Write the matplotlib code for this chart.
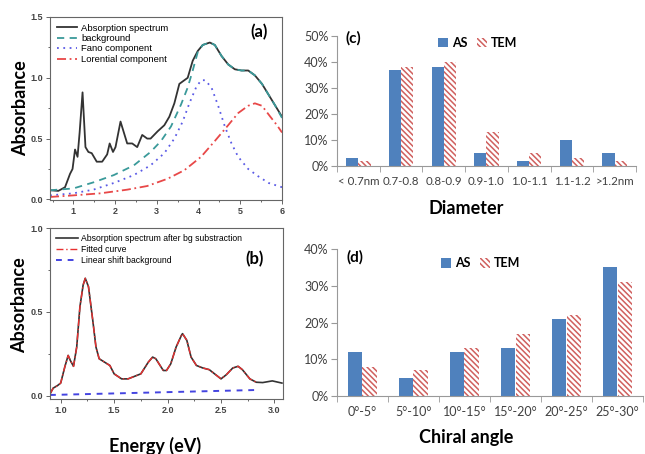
import matplotlib
matplotlib.use('Agg')
import matplotlib.pyplot as plt

plt.rcParams['hatch.linewidth'] = 1.1

# ---- panel (a): absorption spectrum and its decomposition
a_E = [0.44, 0.64, 0.80, 0.92, 0.98, 1.04, 1.10, 1.15, 1.22, 1.29, 1.36, 1.44, 1.56, 1.69,
       1.81, 1.87, 1.95, 2.01, 2.13, 2.21, 2.29, 2.41, 2.53, 2.65, 2.77, 2.85, 3.02, 3.18,
       3.30, 3.42, 3.54, 3.62, 3.74, 3.86, 3.98, 4.10, 4.27, 4.39, 4.55, 4.71, 4.87, 5.03,
       5.19, 5.35, 5.52, 5.68, 5.84, 6.00]
a_abs = [0.075, 0.07, 0.10, 0.21, 0.25, 0.41, 0.35, 0.55, 0.88, 0.43, 0.39, 0.38, 0.31, 0.31,
         0.37, 0.46, 0.39, 0.43, 0.64, 0.55, 0.46, 0.46, 0.43, 0.53, 0.50, 0.50, 0.56, 0.61,
         0.68, 0.79, 0.95, 0.97, 1.00, 1.14, 1.22, 1.27, 1.29, 1.27, 1.18, 1.11, 1.07, 1.06,
         1.06, 1.02, 0.95, 0.86, 0.77, 0.68]
bg_E = [0.44, 1.00, 1.48, 1.97, 2.45, 2.85, 3.10, 3.34, 3.58, 3.74, 3.86, 3.98, 4.10, 4.27,
        4.39, 4.55, 4.71, 4.87, 5.03, 5.19, 5.35, 5.52, 5.68, 5.84, 6.00]
bg_abs = [0.075, 0.09, 0.14, 0.20, 0.28, 0.39, 0.48, 0.60, 0.78, 0.92, 1.06, 1.21, 1.27, 1.29,
          1.27, 1.18, 1.11, 1.07, 1.06, 1.06, 1.02, 0.95, 0.86, 0.77, 0.67]
fano_E = [0.44, 1.00, 1.48, 1.97, 2.45, 2.85, 3.18, 3.42, 3.62, 3.78, 3.94, 4.06, 4.16, 4.31,
          4.47, 4.63, 4.79, 4.95, 5.19, 5.43, 5.68, 6.00]
fano_abs = [0.033, 0.05, 0.08, 0.135, 0.20, 0.28, 0.38, 0.50, 0.64, 0.79, 0.92, 0.98, 0.98,
            0.92, 0.77, 0.60, 0.46, 0.35, 0.25, 0.19, 0.135, 0.10]
lor_E = [0.44, 1.00, 1.65, 2.29, 2.77, 3.26, 3.66, 4.06, 4.39, 4.71, 4.95, 5.19, 5.35, 5.52,
         5.72, 5.88, 6.00]
lor_abs = [0.02, 0.033, 0.05, 0.08, 0.11, 0.17, 0.24, 0.35, 0.48, 0.61, 0.71, 0.77, 0.79,
           0.77, 0.68, 0.61, 0.55]

# ---- panel (b): spectrum after background subtraction
b_E = [0.90, 0.93, 0.97, 1.00, 1.04, 1.07, 1.09, 1.12, 1.15, 1.18, 1.21, 1.23, 1.26, 1.30,
       1.33, 1.36, 1.41, 1.46, 1.50, 1.57, 1.63, 1.71, 1.75, 1.82, 1.86, 1.89, 1.96, 1.99,
       2.03, 2.08, 2.13, 2.14, 2.18, 2.22, 2.27, 2.33, 2.39, 2.45, 2.50, 2.55, 2.61, 2.66,
       2.70, 2.77, 2.83, 2.89, 2.98, 3.07]
b_abs = [0.01, 0.045, 0.06, 0.075, 0.175, 0.24, 0.21, 0.175, 0.29, 0.53, 0.66, 0.70, 0.65,
         0.45, 0.29, 0.22, 0.20, 0.18, 0.13, 0.10, 0.10, 0.12, 0.13, 0.20, 0.23, 0.22, 0.15,
         0.15, 0.19, 0.29, 0.36, 0.37, 0.33, 0.23, 0.18, 0.165, 0.155, 0.125, 0.10, 0.125,
         0.165, 0.175, 0.155, 0.10, 0.08, 0.078, 0.088, 0.075]
fit_end = 45  # fitted curve stops near 2.85 eV
lin_E = [0.90, 2.85]
lin_abs = [0.004, 0.034]

# ---- panel (c): diameter distribution
diam_cats = ['< 0.7nm', '0.7-0.8', '0.8-0.9', '0.9-1.0', '1.0-1.1', '1.1-1.2', '>1.2nm']
diam_as = [3, 37, 38, 5, 2, 10, 5]
diam_tem = [2, 38, 40, 13, 5, 3, 2]

# ---- panel (d): chiral angle distribution
chir_cats = ['0°-5°', '5°-10°', '10°-15°', '15°-20°', '20°-25°', '25°-30°']
chir_as = [12, 5, 12, 13, 21, 35]
chir_tem = [8, 7, 13, 17, 22, 31]

W, H = 645, 454
fig = plt.figure(figsize=(W / 100, H / 100), dpi=100)


def box(l, t, r, b):
    return [l / W, 1 - b / H, (r - l) / W, (b - t) / H]


cal = ['Lato', 'DejaVu Sans']
tickfont = dict(family='Liberation Sans', weight='bold', size=6.5, color='#444444')


def spec_axes(ax):
    for s in ax.spines.values():
        s.set_color('#666666')
        s.set_linewidth(0.8)
    ax.tick_params(which='both', direction='out', color='#666666', width=0.7, pad=2)
    ax.tick_params(which='major', length=3)
    ax.tick_params(which='minor', length=1.5)
    for lab in ax.get_xticklabels() + ax.get_yticklabels():
        lab.set(**tickfont)


# (a)
ax = fig.add_axes(box(50, 17, 282, 200))
ax.plot(a_E, a_abs, color='#333333', lw=1.3, label='Absorption spectrum')
ax.plot(bg_E, bg_abs, color='#3a9a9a', lw=1.3, ls=(0, (4, 3)), label='background')
ax.plot(fano_E, fano_abs, color='#5a5ae6', lw=1.3, ls=(0, (1, 2.5)), label='Fano component')
ax.plot(lor_E, lor_abs, color='#e84848', lw=1.3, ls=(0, (5, 2, 1, 2)), label='Lorential component')
ax.set_xlim(0.44, 6.0)
ax.set_ylim(-0.005, 1.5)
ax.set_xticks([1, 2, 3, 4, 5, 6])
ax.set_xticks([0.5, 1.5, 2.5, 3.5, 4.5, 5.5], minor=True)
ax.set_yticks([0.0, 0.5, 1.0, 1.5])
ax.set_yticks([0.25, 0.75, 1.25], minor=True)
ax.set_yticklabels(['0.0', '0.5', '1.0', '1.5'])
spec_axes(ax)
ax.legend(loc='upper left', frameon=False, handlelength=2.2, handletextpad=0.4,
          labelspacing=0.15, borderaxespad=0.3, prop=dict(family='Liberation Sans', size=6.8))
ax.text(0.9, 0.92, '(a)', transform=ax.transAxes, ha='center', va='center',
        fontsize=12, fontweight='bold', family=cal)
fig.text(21 / W, 1 - 108 / H, 'Absorbance', rotation=90, ha='center', va='center',
         fontsize=13, fontweight='bold', family=cal)

# (b)
ax = fig.add_axes(box(50, 228, 283, 399))
ax.plot(b_E, b_abs, color='#333333', lw=1.2, label='Absorption spectrum after bg substraction')
ax.plot(b_E[:fit_end], b_abs[:fit_end], color='#e83030', lw=1.0, ls=(0, (5, 2, 1, 2)),
        label='Fitted curve')
ax.plot(lin_E, lin_abs, color='#4444e0', lw=1.4, ls=(0, (3, 3)), label='Linear shift background')
ax.set_xlim(0.9, 3.08)
ax.set_ylim(-0.02, 1.0)
ax.set_xticks([1.0, 1.5, 2.0, 2.5, 3.0])
ax.set_xticks([1.25, 1.75, 2.25, 2.75], minor=True)
ax.set_yticks([0.0, 0.5, 1.0])
ax.set_yticks([0.25, 0.75], minor=True)
spec_axes(ax)
ax.legend(loc='upper left', frameon=False, handlelength=2.6, handletextpad=0.3,
          labelspacing=0.25, borderaxespad=0.3, prop=dict(family='Liberation Sans', size=6.2))
ax.text(0.88, 0.82, '(b)', transform=ax.transAxes, ha='center', va='center',
        fontsize=12, fontweight='bold', family=cal)
fig.text(20 / W, 1 - 305 / H, 'Absorbance', rotation=90, ha='center', va='center',
         fontsize=13, fontweight='bold', family=cal)
fig.text(155 / W, 1 - 446 / H, 'Energy (eV)', ha='center', va='center',
         fontsize=13, fontweight='bold', family=cal)


def bar_axes(ax, cats, s_as, s_tem, ymax, tag, tag_y, xlabel, lab_y, leg_y, fs):
    x = list(range(len(cats)))
    bw = 0.285
    ax.bar([i - bw / 2 for i in x], s_as, bw, color='#4f81bd', label='AS')
    ax.bar([i + bw / 2 for i in x], s_tem, bw, color='white', edgecolor='#d0605e',
           linewidth=0, hatch='\\\\\\\\\\\\', label='TEM')
    ax.set_xlim(-0.5, len(cats) - 0.5)
    ax.set_ylim(0, ymax)
    ax.set_yticks(range(0, ymax + 1, 10))
    ax.set_yticklabels(['%d%%' % v for v in range(0, ymax + 1, 10)])
    ax.set_xticks(x)
    ax.set_xticklabels(cats)
    ax.set_xticks([i - 0.5 for i in range(len(cats) + 1)], minor=True)
    ax.tick_params(axis='x', which='major', length=0, pad=7)
    ax.tick_params(axis='x', which='minor', length=4, color='#999999')
    ax.tick_params(axis='y', length=4, color='#999999', pad=2)
    for s in ['top', 'right']:
        ax.spines[s].set_visible(False)
    for s in ['left', 'bottom']:
        ax.spines[s].set_color('#999999')
        ax.spines[s].set_linewidth(0.8)
    for lab in ax.get_xticklabels():
        lab.set(family=cal, fontsize=fs, color='#404040')
    for lab in ax.get_yticklabels():
        lab.set(family=cal, fontsize=9, color='#404040')
    ax.legend(loc='upper center', bbox_to_anchor=(0.47, leg_y), ncol=2, frameon=False,
              handlelength=0.8, handleheight=0.8, handletextpad=0.3, columnspacing=0.8,
              prop=dict(family=cal, weight='bold', size=9))
    ax.text(0.03, tag_y, tag, transform=ax.transAxes, ha='left', va='center',
            fontsize=11, fontweight='bold', family=cal)
    fig.text(466 / W, 1 - lab_y / H, xlabel, ha='center', va='center',
             fontsize=13, fontweight='bold', family=cal)


ax = fig.add_axes(box(337, 36, 636, 166))
bar_axes(ax, diam_cats, diam_as, diam_tem, 50, '(c)', 0.98, 'Diameter', 209, 1.08, 8.3)
ax = fig.add_axes(box(337, 249, 643, 396))
bar_axes(ax, chir_cats, chir_as, chir_tem, 40, '(d)', 0.94, 'Chiral angle', 437, 1.02, 9)

fig.savefig('out.png', dpi=100)
